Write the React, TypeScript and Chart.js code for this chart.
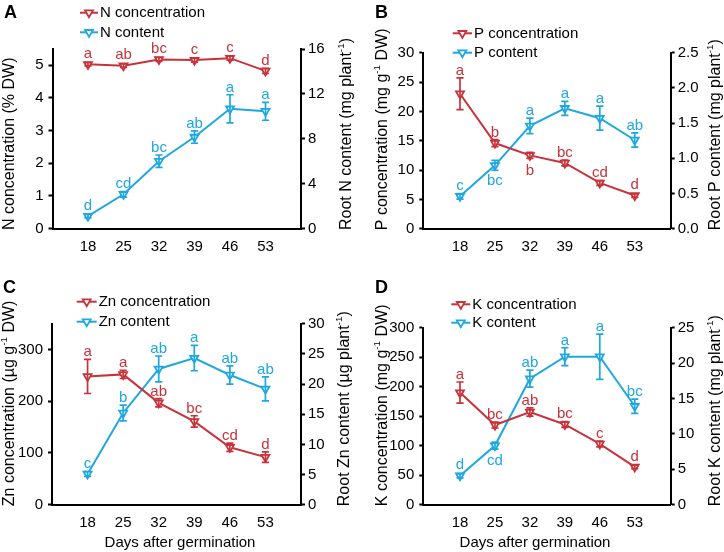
import React, { useEffect, useRef } from 'react';
import { Chart, registerables } from 'chart.js';

Chart.register(...registerables);

const FONT = "'Liberation Sans', Arial, Helvetica, sans-serif";
const RED = '#c8333b';
const BLUE = '#1fa7df';
const W = 362;
const H = 276;

const days = [18, 25, 32, 39, 46, 53];

// Panel A – nitrogen
const nConc = [5.03, 4.99, 5.18, 5.16, 5.22, 4.83];
const nConcErr = [0.05, 0.05, 0.06, 0.06, 0.06, 0.08];
const nConcLetters = ['a', 'ab', 'bc', 'c', 'c', 'd'];
const nConcBelow = [false, false, false, false, false, false];
const nCont = [1.1, 3.05, 6.0, 8.15, 10.67, 10.45];
const nContErr = [0.15, 0.25, 0.55, 0.55, 1.25, 0.8];
const nContLetters = ['d', 'cd', 'bc', 'ab', 'a', 'a'];
const nContBelow = [false, false, false, false, false, false];
const nLeftTicks = [0, 1, 2, 3, 4, 5];
const nRightTicks = [0, 4, 8, 12, 16];

// Panel B – phosphorus
const pConc = [23.0, 14.6, 12.5, 11.2, 7.8, 5.65];
const pConcErr = [2.7, 0.6, 0.5, 0.5, 0.4, 0.3];
const pConcLetters = ['a', 'b', 'b', 'bc', 'cd', 'd'];
const pConcBelow = [false, false, true, false, false, false];
const pCont = [0.46, 0.9, 1.46, 1.71, 1.57, 1.26];
const pContErr = [0.04, 0.07, 0.11, 0.1, 0.17, 0.1];
const pContLetters = ['c', 'bc', 'a', 'a', 'a', 'ab'];
const pContBelow = [false, true, false, false, false, false];
const pLeftTicks = [0, 5, 10, 15, 20, 25, 30];
const pRightTicks = [0, 0.5, 1.0, 1.5, 2.0, 2.5];

// Panel C – zinc
const znConc = [248, 252, 197, 161, 111, 92];
const znConcErr = [33, 8, 8, 11, 8, 10];
const znConcLetters = ['a', 'a', 'ab', 'bc', 'cd', 'd'];
const znConcBelow = [false, false, false, false, false, false];
const znCont = [5.1, 15.2, 22.5, 24.3, 21.5, 19.2];
const znContErr = [0.4, 1.3, 2.15, 2.1, 1.5, 2.0];
const znContLetters = ['c', 'b', 'ab', 'a', 'ab', 'ab'];
const znContBelow = [false, false, false, false, false, false];
const znLeftTicks = [0, 100, 200, 300];
const znRightTicks = [0, 5, 10, 15, 20, 25, 30];

// Panel D – potassium
const kConc = [190, 135, 157, 136, 103, 64];
const kConcErr = [18, 5, 7, 5, 5, 3];
const kConcLetters = ['a', 'bc', 'ab', 'bc', 'c', 'd'];
const kConcBelow = [false, false, false, false, false, false];
const kCont = [4.1, 8.35, 17.8, 20.9, 20.9, 13.9];
const kContErr = [0.3, 0.5, 1.2, 1.27, 3.2, 1.0];
const kContLetters = ['d', 'cd', 'ab', 'a', 'a', 'bc'];
const kContBelow = [false, true, false, false, false, false];
const kLeftTicks = [0, 50, 100, 150, 200, 250, 300];
const kRightTicks = [0, 5, 10, 15, 20, 25];

type Series = {
  label: string;
  data: number[];
  err: number[];
  letters: string[];
  below: boolean[];
  color: string;
};

type PanelCfg = {
  id: string;
  x: number;
  y: number;
  area: { l: number; r: number; t: number; b: number };
  xMin: number;
  xMax: number;
  leftMax: number;
  rightMax: number;
  leftTicks: number[];
  rightTicks: number[];
  rightDecimals: number;
  leftTitle: string;
  rightTitle: string;
  leftTitleX: number;
  rightTitleX: number;
  xTitle?: string;
  xTitleX?: number;
  conc: Series;
  cont: Series;
  legendX: [number, number];
  legendY: [number, number];
  letterX: number;
  letterY: number;
};

const panels: PanelCfg[] = [
  {
    id: 'A', x: 0, y: 0,
    area: { l: 52.5, r: 301, t: 49, b: 228.5 },
    xMin: 11, xMax: 60,
    leftMax: 5.5, rightMax: 16, leftTicks: nLeftTicks, rightTicks: nRightTicks, rightDecimals: 0,
    leftTitle: 'N concentration (% DW)', rightTitle: 'Root N content (mg plant^{-1})',
    leftTitleX: 10, rightTitleX: 347,
    conc: { label: 'N concentration', data: nConc, err: nConcErr, letters: nConcLetters, below: nConcBelow, color: RED },
    cont: { label: 'N content', data: nCont, err: nContErr, letters: nContLetters, below: nContBelow, color: BLUE },
    legendX: [80, 98], legendY: [12.7, 32.3],
    letterX: 4, letterY: 18,
  },
  {
    id: 'B', x: 362, y: 0,
    area: { l: 61.3, r: 308.7, t: 52.7, b: 228.7 },
    xMin: 10.65, xMax: 60.2,
    leftMax: 30, rightMax: 2.5, leftTicks: pLeftTicks, rightTicks: pRightTicks, rightDecimals: 1,
    leftTitle: 'P concentration (mg g^{-1} DW)', rightTitle: 'Root P content (mg plant^{-1})',
    leftTitleX: 21, rightTitleX: 354,
    conc: { label: 'P concentration', data: pConc, err: pConcErr, letters: pConcLetters, below: pConcBelow, color: RED },
    cont: { label: 'P content', data: pCont, err: pContErr, letters: pContLetters, below: pContBelow, color: BLUE },
    legendX: [90.7, 110], legendY: [33.3, 52.7],
    letterX: 13, letterY: 18,
  },
  {
    id: 'C', x: 0, y: 276,
    area: { l: 52, r: 301, t: 47.7, b: 228.7 },
    xMin: 11, xMax: 60,
    leftMax: 350, rightMax: 30, leftTicks: znLeftTicks, rightTicks: znRightTicks, rightDecimals: 0,
    leftTitle: 'Zn concentration (µg g^{-1} DW)', rightTitle: 'Root Zn content (µg plant^{-1})',
    leftTitleX: 10, rightTitleX: 345,
    xTitle: 'Days after germination', xTitleX: 180,
    conc: { label: 'Zn concentration', data: znConc, err: znConcErr, letters: znConcLetters, below: znConcBelow, color: RED },
    cont: { label: 'Zn content', data: znCont, err: znContErr, letters: znContLetters, below: znContBelow, color: BLUE },
    legendX: [76.7, 96.7], legendY: [25.7, 45.7],
    letterX: 3, letterY: 17,
  },
  {
    id: 'D', x: 362, y: 276,
    area: { l: 61.3, r: 308.7, t: 51.7, b: 228.7 },
    xMin: 10.65, xMax: 60.2,
    leftMax: 300, rightMax: 25, leftTicks: kLeftTicks, rightTicks: kRightTicks, rightDecimals: 0,
    leftTitle: 'K concentration (mg g^{-1} DW)', rightTitle: 'Root K content (mg plant^{-1})',
    leftTitleX: 21, rightTitleX: 354,
    xTitle: 'Days after germination', xTitleX: 173,
    conc: { label: 'K concentration', data: kConc, err: kConcErr, letters: kConcLetters, below: kConcBelow, color: RED },
    cont: { label: 'K content', data: kCont, err: kContErr, letters: kContLetters, below: kContBelow, color: BLUE },
    legendX: [89.3, 108.3], legendY: [28.3, 46.7],
    letterX: 13, letterY: 17,
  },
];

const POINT_R = 4.6;
const TITLE_SIZE = 16;

function splitRich(text: string) {
  const parts: { t: string; sup: boolean }[] = [];
  const re = /\^\{([^}]*)\}/g;
  let last = 0;
  let m: RegExpExecArray | null;
  while ((m = re.exec(text))) {
    if (m.index > last) parts.push({ t: text.slice(last, m.index), sup: false });
    parts.push({ t: m[1], sup: true });
    last = m.index + m[0].length;
  }
  if (last < text.length) parts.push({ t: text.slice(last), sup: false });
  return parts;
}

function drawRich(ctx: CanvasRenderingContext2D, text: string, x: number, y: number, size: number) {
  let cx = x;
  for (const p of splitRich(text)) {
    if (p.sup) {
      ctx.font = `${size * 0.62}px ${FONT}`;
      ctx.fillText(p.t, cx, y - size * 0.36);
    } else {
      ctx.font = `${size}px ${FONT}`;
      ctx.fillText(p.t, cx, y);
    }
    cx += ctx.measureText(p.t).width;
  }
  return cx - x;
}

function drawTri(ctx: CanvasRenderingContext2D, x: number, y: number, r: number, color: string) {
  ctx.beginPath();
  let rad = Math.PI;
  for (let k = 0; k < 3; k++) {
    const px = x + Math.sin(rad) * r;
    const py = y - Math.cos(rad) * r;
    if (k === 0) ctx.moveTo(px, py);
    else ctx.lineTo(px, py);
    rad += (2 * Math.PI) / 3;
  }
  ctx.closePath();
  ctx.fillStyle = '#fff';
  ctx.fill();
  ctx.strokeStyle = color;
  ctx.lineWidth = 1.8;
  ctx.stroke();
}

function makePlugin(cfg: PanelCfg) {
  return {
    id: 'overlay' + cfg.id,
    afterDatasetsDraw(chart: any) {
      const ctx: CanvasRenderingContext2D = chart.ctx;
      const xs = chart.scales.x;
      [cfg.conc, cfg.cont].forEach((s, si) => {
        const ys = chart.scales[si === 0 ? 'y' : 'y1'];
        ctx.save();
        ctx.strokeStyle = s.color;
        ctx.lineWidth = 1.7;
        days.forEach((d, i) => {
          const px = xs.getPixelForValue(d);
          const top = ys.getPixelForValue(s.data[i] + s.err[i]);
          const bot = ys.getPixelForValue(s.data[i] - s.err[i]);
          ctx.beginPath();
          ctx.moveTo(px, top);
          ctx.lineTo(px, bot);
          ctx.moveTo(px - 3.6, top);
          ctx.lineTo(px + 3.6, top);
          ctx.moveTo(px - 3.6, bot);
          ctx.lineTo(px + 3.6, bot);
          ctx.stroke();
        });
        ctx.restore();
      });
    },
    afterDraw(chart: any) {
      const ctx: CanvasRenderingContext2D = chart.ctx;
      const xs = chart.scales.x;
      const area = chart.chartArea;
      ctx.save();
      // significance letters
      [cfg.conc, cfg.cont].forEach((s, si) => {
        const ys = chart.scales[si === 0 ? 'y' : 'y1'];
        ctx.fillStyle = s.color;
        ctx.font = `15px ${FONT}`;
        ctx.textAlign = 'center';
        days.forEach((d, i) => {
          const px = xs.getPixelForValue(d);
          const py = ys.getPixelForValue(s.data[i]);
          const top = ys.getPixelForValue(s.data[i] + s.err[i]);
          const bot = ys.getPixelForValue(s.data[i] - s.err[i]);
          if (s.below[i]) {
            ctx.textBaseline = 'top';
            ctx.fillText(s.letters[i], px, Math.max(bot, py + POINT_R + 1) + 2);
          } else {
            ctx.textBaseline = 'alphabetic';
            ctx.fillText(s.letters[i], px, Math.min(top, py - POINT_R * 0.5 - 1) - 3);
          }
        });
      });
      // legend
      [cfg.conc, cfg.cont].forEach((s, k) => {
        const y = cfg.legendY[k];
        const [x1, x2] = cfg.legendX;
        ctx.strokeStyle = s.color;
        ctx.lineWidth = 2;
        ctx.beginPath();
        ctx.moveTo(x1, y);
        ctx.lineTo(x2, y);
        ctx.stroke();
        drawTri(ctx, (x1 + x2) / 2, y, POINT_R, s.color);
        ctx.fillStyle = '#000';
        ctx.font = `15px ${FONT}`;
        ctx.textAlign = 'left';
        ctx.textBaseline = 'middle';
        ctx.fillText(s.label, x2 + 2, y + 0.5);
      });
      // y axis titles (reading bottom to top)
      ctx.fillStyle = '#000';
      ctx.textAlign = 'left';
      ctx.textBaseline = 'middle';
      [[cfg.leftTitle, cfg.leftTitleX], [cfg.rightTitle, cfg.rightTitleX]].forEach(([t, x]) => {
        ctx.save();
        ctx.translate(x as number, area.bottom + 1.5);
        ctx.rotate(-Math.PI / 2);
        drawRich(ctx, t as string, 0, 0, TITLE_SIZE);
        ctx.restore();
      });
      // x axis title
      if (cfg.xTitle) {
        ctx.font = `15px ${FONT}`;
        ctx.textAlign = 'center';
        ctx.textBaseline = 'middle';
        ctx.fillText(cfg.xTitle, cfg.xTitleX as number, 266.7);
      }
      // panel letter
      ctx.font = `bold 18px ${FONT}`;
      ctx.textAlign = 'left';
      ctx.textBaseline = 'alphabetic';
      ctx.fillText(cfg.id, cfg.letterX, cfg.letterY);
      ctx.restore();
    },
  };
}

function buildConfig(cfg: PanelCfg): any {
  const { area } = cfg;
  const ds = (s: Series, axis: string) => ({
    label: s.label,
    data: days.map((d, i) => ({ x: d, y: s.data[i] })),
    yAxisID: axis,
    borderColor: s.color,
    backgroundColor: '#fff',
    borderWidth: 2,
    pointStyle: 'triangle',
    rotation: 180,
    pointRadius: POINT_R,
    pointBorderWidth: 1.8,
    pointBackgroundColor: '#fff',
    pointBorderColor: s.color,
    tension: 0,
  });
  const tickFont = { family: FONT, size: 15 };
  return {
    type: 'line',
    data: { datasets: [ds(cfg.conc, 'y'), ds(cfg.cont, 'y1')] },
    options: {
      animation: false,
      responsive: false,
      devicePixelRatio: 1,
      layout: { padding: { top: area.t, left: 0, right: 0, bottom: 0 } },
      plugins: { legend: { display: false }, tooltip: { enabled: false } },
      scales: {
        x: {
          type: 'linear',
          min: cfg.xMin,
          max: cfg.xMax,
          afterBuildTicks: (s: any) => { s.ticks = days.map((v) => ({ value: v })); },
          afterFit: (s: any) => { s.height = H - area.b; },
          grid: { display: false, drawTicks: false },
          border: { display: true, color: '#000', width: 2 },
          ticks: { color: '#000', font: tickFont, padding: 9, autoSkip: false, maxRotation: 0, callback: (v: any) => String(v) },
        },
        y: {
          position: 'left',
          min: 0,
          max: cfg.leftMax,
          afterBuildTicks: (s: any) => { s.ticks = cfg.leftTicks.map((v) => ({ value: v })); },
          afterFit: (s: any) => { s.width = area.l; },
          grid: { display: true, drawOnChartArea: false, drawTicks: true, tickLength: 4, tickWidth: 2, tickColor: '#000' },
          border: { display: true, color: '#000', width: 2 },
          ticks: { color: '#000', font: tickFont, padding: 5, callback: (v: any) => String(v) },
        },
        y1: {
          position: 'right',
          min: 0,
          max: cfg.rightMax,
          afterBuildTicks: (s: any) => { s.ticks = cfg.rightTicks.map((v) => ({ value: v })); },
          afterFit: (s: any) => { s.width = W - area.r; },
          grid: { display: true, drawOnChartArea: false, drawTicks: true, tickLength: 4, tickWidth: 2, tickColor: '#000' },
          border: { display: true, color: '#000', width: 2 },
          ticks: { color: '#000', font: tickFont, padding: 3, callback: (v: any) => Number(v).toFixed(cfg.rightDecimals) },
        },
      },
    },
    plugins: [makePlugin(cfg)],
  };
}

function Panel({ cfg }: { cfg: PanelCfg }) {
  const ref = useRef<HTMLCanvasElement>(null);
  useEffect(() => {
    const chart = new Chart(ref.current as HTMLCanvasElement, buildConfig(cfg));
    return () => chart.destroy();
  }, [cfg]);
  return (
    <canvas
      ref={ref}
      width={W}
      height={H}
      style={{ position: 'absolute', left: cfg.x, top: cfg.y, width: W, height: H }}
    />
  );
}

export default function App() {
  return (
    <div style={{ position: 'absolute', left: 0, top: 0, width: 724, height: 552, background: '#fff' }}>
      {panels.map((p) => (
        <Panel key={p.id} cfg={p} />
      ))}
    </div>
  );
}
